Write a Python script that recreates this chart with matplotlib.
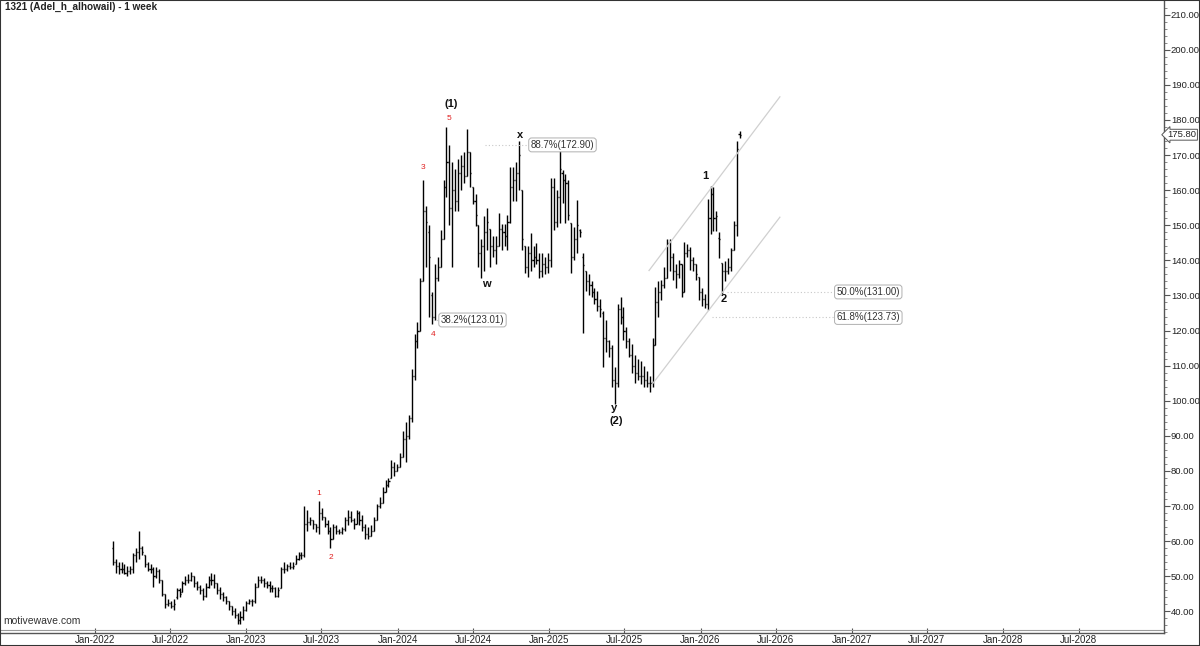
import matplotlib
matplotlib.use("Agg")
import matplotlib.pyplot as plt
import matplotlib.dates as mdates
from matplotlib.collections import LineCollection
from matplotlib.ticker import MultipleLocator, FormatStrFormatter, FixedLocator
from matplotlib.transforms import blended_transform_factory
import numpy as np
import pandas as pd

plt.rcParams['font.family'] = ['Liberation Sans', 'DejaVu Sans']

# ---------------- data (weekly OHLC) ----------------
start_date = "2022-02-13"
opens = [58, 54, 53, 52, 52, 51, 51.5, 52, 56, 57, 58, 56, 53.5, 52, 52, 50, 51.5, 49, 45, 42,
         42.5, 41.5, 44, 46, 45.5, 48, 49, 49, 50, 48, 47, 46, 44.5, 47, 49, 49, 48, 46, 45, 44,
         43, 41.5, 40, 39, 37.5, 38.5, 40.5, 42.5, 43, 43, 47, 49, 49, 48, 47.5, 46.5, 46.5, 44.5, 46.5, 52,
         52, 53, 52.5, 53.5, 55, 56, 56, 65, 65.5, 66, 65, 64, 68, 67, 65, 63, 60.5, 64, 63, 62.5,
         63.5, 66, 67, 66, 65, 68, 66, 64, 62, 61.5, 63, 66, 70, 71, 74, 76, 78, 81, 80, 81,
         84, 89, 90, 95, 107, 117, 120, 134, 154, 148, 130, 124, 135, 138, 146, 161, 168, 155, 160, 157,
         165, 167, 164, 171, 161, 157, 150, 142, 144, 148, 149, 144, 143, 144, 149, 148, 147, 151, 161, 163,
         165, 160, 144, 138, 142, 140, 141, 140, 137, 139, 138, 140, 161, 151, 158, 165, 163, 162, 150.6, 141,
         146, 148.7, 141, 137, 134, 133, 131, 129, 127, 125, 118, 117, 115, 106, 105, 126, 124, 120, 117, 113,
         110, 108, 107, 107, 106, 105, 105, 116, 128, 131, 133, 135, 145, 141, 137, 136, 139, 131, 142, 143,
         140, 139, 135.3, 131, 129, 127.5, 152, 159, 152, 146.5, 139.3, 137, 137, 138, 143, 150, 176]
highs = [60.1, 55, 54, 54, 53.5, 53, 53, 56.5, 58, 63, 58.5, 56, 54, 53.5, 52.5, 52.5, 52, 49, 45, 43.5,
         43, 43.5, 46.5, 46.5, 48.5, 50, 50.5, 51.2, 50, 48.5, 47.5, 46.5, 48, 50, 51, 50.5, 48, 47, 45.5, 44.5,
         43, 41.5, 41, 39.5, 40, 41.5, 43, 43.5, 43.5, 48, 50, 50, 49.5, 48.5, 48.5, 47.5, 47, 47, 52.5, 54,
         53.5, 54, 54, 56, 57, 57, 70, 69, 67, 66, 65, 71.5, 69.5, 67, 66, 64, 65, 64.5, 63.5, 64,
         67, 69, 68.5, 66.5, 69, 68.5, 67.5, 65, 64, 64.5, 67, 70.5, 72.5, 75.5, 77.5, 78, 83, 82.5, 82, 85,
         91.5, 94, 96, 109, 119, 122.5, 135, 163, 155.5, 150, 131, 139, 141, 148.7, 163, 178, 173, 168, 166, 169,
         170, 171, 177.4, 171, 161, 159, 150, 146, 152.5, 155, 149, 147, 147, 153.5, 150.5, 150.5, 153, 166.7, 166.7, 168,
         174, 160, 144, 144, 147.7, 144, 145, 142, 142, 141, 142, 163.4, 163.4, 160, 172.9, 165.8, 164.5, 163, 150.6, 149.6,
         157.2, 149, 142, 137, 136, 134, 132, 131.4, 129, 125.7, 122.9, 117.2, 116, 109.6, 127.6, 129.5, 126.6, 121, 118, 116.2,
         113, 112, 111.4, 110, 108.6, 107, 118, 132.3, 134, 134.3, 138, 146.2, 146, 142, 139, 140, 139, 145.2, 144.8, 143.8,
         141, 139, 135.3, 132, 130.5, 157.6, 161.2, 160.8, 154.1, 148, 139.3, 139.8, 140.8, 143.6, 151.3, 174, 176.8]
lows = [53.2, 51, 50.5, 51, 50.5, 50, 50.5, 51, 54, 55, 56, 52.5, 51.5, 51, 47, 49.5, 48, 44.5, 41, 41.5,
        41, 40.5, 43.5, 44, 45.5, 47.5, 48, 48.5, 47, 46, 45, 43.2, 44, 46.5, 47.5, 46.5, 45, 43.5, 43, 42,
        40.3, 39, 38, 36.5, 36.4, 37.5, 40, 42, 41.5, 42.5, 47, 48, 47, 46.5, 45.5, 45.5, 44, 44, 46.5, 51,
        51.5, 52, 52, 53.5, 54.5, 55, 55.5, 63, 64.5, 63.5, 62.5, 62, 66, 64, 62, 58, 60.5, 62, 62, 62,
        63, 64.5, 65.5, 63.5, 65, 64.5, 63, 60.5, 60.5, 61.5, 63, 66, 69.5, 71, 74, 75.5, 78, 78.5, 80, 81,
        84, 82.5, 89, 94, 106, 115, 120, 134, 138, 124, 122, 123, 134, 138, 146, 158, 150, 138, 154, 154,
        160, 162, 164, 161, 156, 149.7, 138, 135, 137, 143, 138, 141, 139, 144, 143, 144, 143, 150.6, 157, 157,
        160, 143, 136.3, 135.4, 137, 138, 139, 135, 135.4, 136, 136.3, 138.2, 148.7, 149.6, 150.6, 156.3, 150.6, 151.5, 136.3,
        140, 142, 146.7, 119.2, 131.4, 130, 129.5, 127.6, 125.7, 124, 109.6, 114, 112.4, 103.9, 99, 104, 121.9, 117.2, 115, 112.4,
        108, 105, 105.8, 104.9, 103.9, 103.9, 102.5, 104, 116, 124, 128.6, 132, 135, 137, 134.3, 132, 135, 129.5, 131, 141,
        137.2, 137, 134.3, 128.6, 127, 126.5, 125.8, 147.4, 148.4, 148.4, 140.8, 130.3, 134.1, 136, 137, 143, 147, 175]
closes = [54, 53, 52, 52, 51, 51.5, 52, 56, 57, 58, 57, 53.5, 52, 52, 50, 51.5, 49, 45, 42, 42.5,
          41.5, 42, 46, 45, 48, 49, 49, 50, 48, 47, 46, 44.5, 47, 49, 49, 48, 46, 45, 44, 43,
          41.5, 40, 39, 37.5, 38.5, 40.5, 42.5, 43, 43, 47, 49, 49, 48, 47.5, 46.5, 46.5, 44.5, 46, 52, 52,
          53, 52.5, 53, 55, 56, 56, 65, 65.5, 66, 65, 64, 68, 67, 65, 63, 60.5, 64, 63, 62.5, 63.5,
          66, 67, 66, 65, 68, 66, 64, 62, 61.5, 63, 66, 70, 71, 74, 76, 77, 81, 80, 81, 84,
          89, 90, 95, 107, 117, 120, 134, 154, 151, 141, 124, 135, 138, 146, 161, 168, 155, 160, 157, 165,
          167, 164, 171, 165, 157, 153, 142, 144, 148, 151, 144, 143, 144, 149, 148, 147, 151, 161, 163, 165,
          170, 146, 138, 142, 140, 141, 140, 137, 139, 138, 140, 161, 151, 158, 166, 163, 162, 153, 141, 146,
          150, 148, 138.6, 134, 133, 131, 129, 127, 126, 118, 117, 115, 106, 105, 126, 124, 120, 117, 113, 110,
          108, 107, 107, 106, 105, 105, 116, 128, 131, 133, 135, 145, 141, 137, 136, 139, 131, 142, 143, 140,
          139, 136, 131, 129, 127.5, 152, 159, 152, 152.5, 146, 137, 137, 138, 143, 150, 171.7, 175.8]

last_price = 175.80
y_ticks = np.arange(40, 211, 10)
x_tick_dates = ["2022-01-01", "2022-07-01", "2023-01-01", "2023-07-01", "2024-01-01", "2024-07-01",
                "2025-01-01", "2025-07-01", "2026-01-01", "2026-07-01", "2027-01-01", "2027-07-01",
                "2028-01-01", "2028-07-01"]

# wave labels: (text, bar index, price, colour)
wave_labels = [
    ("1", 71.1, 73.7, "red"), ("2", 75.2, 55.4, "red"), ("3", 106.9, 166.6, "red"),
    ("4", 110.4, 119.0, "red"), ("5", 115.9, 180.3, "red"),
    ("(1)", 116.6, 184.6, "black"), ("w", 128.6, 133.2, "black"), ("x", 140.3, 175.6, "black"),
    ("y", 172.8, 98.0, "black"), ("(2)", 173.5, 94.2, "black"),
    ("1", 204.1, 164.0, "black"), ("2", 210.6, 129.0, "black"),
]
# fib retracement levels: (label, level, line start idx, line end idx, label idx)
fib_levels = [
    ("38.2%(123.01)", 123.01, 110.5, 112.8, 112.8),
    ("88.7%(172.90)", 172.90, 128.2, 143.8, 143.8),
    ("50.0%(131.00)", 131.00, 211.6, 249.2, 249.2),
    ("61.8%(123.73)", 123.73, 206.4, 249.2, 249.2),
]
# channel lines: (idx0, price0, idx1, price1)
channels = [(184.8, 137.1, 229.9, 186.6), (185.8, 104.6, 229.9, 152.3)]

# ---------------- figure ----------------
W, H = 1200, 646
fig = plt.figure(figsize=(W / 100, H / 100), dpi=100)
ax = fig.add_axes([1 / W, 13 / H, 1163 / W, 632 / H])

n = len(closes)
t0 = pd.Timestamp(start_date)
dates = pd.date_range(t0, periods=n, freq="7D")
xd = mdates.date2num(dates)


def idx2num(i):
    return mdates.date2num(t0) + 7.0 * i


hw = 2.6  # tick half-width in days
ax.vlines(xd, lows, highs, color="black", lw=1.0)
segs = [[(x - hw, o), (x, o)] for x, o in zip(xd, opens)]
segs += [[(x, c), (x + hw, c)] for x, c in zip(xd, closes)]
ax.add_collection(LineCollection(segs, colors="black", linewidths=1.0))

# channels
for i0, p0, i1, p1 in channels:
    ax.plot([idx2num(i0), idx2num(i1)], [p0, p1], color="#d0d0d0", lw=0.9)

# fib levels
for lab, lvl, a, b, li in fib_levels:
    ax.plot([idx2num(a), idx2num(b)], [lvl, lvl], color="#c8c8c8", lw=0.8, ls=(0, (1, 2)))
    ax.text(idx2num(li) + 1.5, lvl, lab, fontsize=7, color="#333333", va="center", ha="left",
            bbox=dict(boxstyle="round,pad=0.2,rounding_size=0.3", fc="white", ec="#b0b0b0", lw=0.7))

for txt, i, p, col in wave_labels:
    if col == "red":
        ax.text(idx2num(i), p, txt, color="#e02020", fontsize=6, ha="center", va="center")
    else:
        ax.text(idx2num(i), p, txt, color="#111111", fontsize=8, fontweight="bold",
                ha="center", va="center")

# axes limits
d0 = mdates.date2num(pd.Timestamp("2022-01-01"))
ppd = 0.4145
ax.set_xlim(d0 + (1 - 95) / ppd, d0 + (1164 - 95) / ppd)
ax.set_ylim(40 - (633 - 611.3) / 3.5094, 40 + (611.3 - 1) / 3.5094)

# spines
for s in ("left", "top"):
    ax.spines[s].set_visible(False)
ax.spines["right"].set_color("#555555")
ax.spines["bottom"].set_color("#555555")
ax.spines["right"].set_linewidth(1.0)
ax.spines["bottom"].set_linewidth(1.0)
# second light line of the x-axis band
ax.plot([0, 1], [3.5 / 632, 3.5 / 632], transform=ax.transAxes, color="#9a9a9a", lw=0.8,
        clip_on=False)

ax.yaxis.tick_right()
ax.set_yticks(y_ticks)
ax.yaxis.set_major_formatter(FormatStrFormatter("%.2f"))
ax.yaxis.set_minor_locator(MultipleLocator(2))
ax.tick_params(axis="y", which="major", direction="out", length=4, width=0.8, color="#555555",
               labelsize=6.8, labelcolor="#222222", pad=1)
ax.tick_params(axis="y", which="minor", direction="out", length=2, width=0.6, color="#777777")

ax.xaxis.set_major_locator(FixedLocator(mdates.date2num(pd.to_datetime(x_tick_dates))))
ax.xaxis.set_major_formatter(mdates.DateFormatter("%b-%Y"))
ax.tick_params(axis="x", which="major", direction="in", length=3.5, width=0.8, color="#555555",
               labelsize=7, labelcolor="#222222", pad=1.5)

# last price marker
tr = blended_transform_factory(ax.transAxes, ax.transData)
ax.text(1.003, last_price, "175.80", transform=tr, fontsize=6.8, color="#222222", va="center",
        ha="left", bbox=dict(boxstyle="larrow,pad=0.1", fc="white", ec="#555555", lw=0.7),
        clip_on=False)

# titles
fig.text(5 / W, 1 - 2 / H, "1321 (Adel_h_alhowail) - 1 week", fontsize=7.2, fontweight="bold",
         color="#222222", va="top", ha="left")
fig.text(3 / W, 1 - 621 / H, "motivewave.com", fontsize=7.5, color="#333333", va="center", ha="left")

# figure frame
fig.patches.append(plt.Rectangle((0, 0), 1, 1, transform=fig.transFigure, fill=False,
                                 ec="#333333", lw=1.5))

fig.savefig("out.png", dpi=100)
